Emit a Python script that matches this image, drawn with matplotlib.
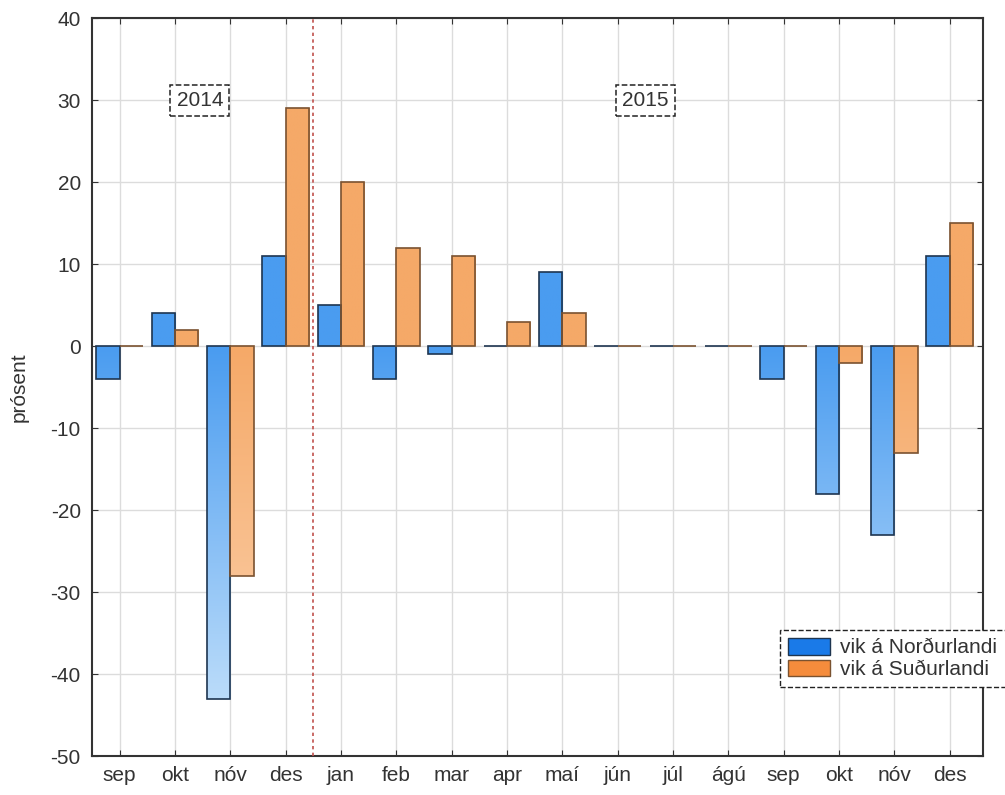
import numpy as np
import matplotlib.pyplot as plt
from matplotlib.colors import to_rgb
from matplotlib.patches import Patch

plt.rcParams['font.family'] = ['Liberation Sans', 'DejaVu Sans']
plt.rcParams['axes.unicode_minus'] = False

months = ['sep', 'okt', 'nóv', 'des', 'jan', 'feb', 'mar', 'apr', 'maí',
          'jún', 'júl', 'ágú', 'sep', 'okt', 'nóv', 'des']
nordur = [-4, 4, -43, 11, 5, -4, -1, 0, 9, 0, 0, 0, -4, -18, -23, 11]
sudur = [0, 2, -28, 29, 20, 12, 11, 3, 4, 0, 0, 0, 0, -2, -13, 15]

fs = 15

fig = plt.figure(figsize=(10.05, 7.95), dpi=100)
ax = fig.add_axes([0.0915, 0.049, 0.8865, 0.928])

x = np.arange(len(months))
w = 0.42


def grad_bars(xpos, vals, base, light, edge):
    base = np.array(to_rgb(base))
    light = np.array(to_rgb(light))
    bars = ax.bar(xpos, vals, width=w, facecolor='none', edgecolor=edge,
                  linewidth=1.2, zorder=3)
    for b, v in zip(bars, vals):
        if v == 0:
            continue
        y0, y1 = min(0, v), max(0, v)
        ys = np.linspace(y1, y0, 60)
        t = np.clip(-ys / 45.0, 0, 1)[:, None] * 0.85
        col = base[None, :] * (1 - t) + light[None, :] * t
        img = np.repeat(col[:, None, :], 2, axis=1)
        x0 = b.get_x()
        im = ax.imshow(img, extent=(x0, x0 + b.get_width(), y0, y1),
                       aspect='auto', zorder=2, interpolation='bilinear')
        im.set_clip_path(b)
    return bars


grad_bars(x - w / 2, nordur, '#4a9cf0', '#d4eafc', '#1e3550')
grad_bars(x + w / 2, sudur, '#f5a968', '#fdd8b8', '#7a5230')

ax.set_xlim(-0.5, 15.6)
ax.set_ylim(-50, 40)
ax.set_xticks(x)
ax.set_xticklabels(months)
ax.set_yticks(np.arange(-50, 41, 10))
ax.tick_params(labelsize=fs, colors='#333333')
ax.tick_params(direction='in', top=True, right=True, length=4, color='#333333')
ax.tick_params(axis='y', pad=8)
ax.tick_params(axis='x', pad=7)
ax.grid(True, color='#dcdcdc', linewidth=1, zorder=0)
ax.set_axisbelow(True)
for s in ax.spines.values():
    s.set_linewidth(1.5)
    s.set_color('#333333')

ax.axvline(3.5, color='#c0504d', linestyle=(0, (2, 2)), linewidth=1.2, zorder=4)

box = dict(boxstyle='square,pad=0.3', fc='white', ec='#222222', ls='--', lw=1.1)
ax.text(1.45, 30, '2014', fontsize=fs, color='#333333', ha='center', va='center',
        bbox=box, zorder=5)
ax.text(9.5, 30, '2015', fontsize=fs, color='#333333', ha='center', va='center',
        bbox=box, zorder=5)

ax.set_ylabel('prósent', fontsize=fs, color='#333333')
ax.yaxis.set_label_coords(-0.071, 0.5)

handles = [Patch(facecolor='#1a7ae8', edgecolor='#1e3550', label='vik á Norðurlandi'),
           Patch(facecolor='#f58c3c', edgecolor='#7a5230', label='vik á Suðurlandi')]
leg = ax.legend(handles=handles, loc='lower left', bbox_to_anchor=(0.772, 0.093),
                fontsize=fs, frameon=True, fancybox=False, borderpad=0.4,
                labelspacing=0.1, handlelength=2.0, handleheight=0.85,
                handletextpad=0.5, borderaxespad=0)
for t in leg.get_texts():
    t.set_color('#333333')
leg.get_frame().set_linestyle('--')
leg.get_frame().set_edgecolor('#222222')
leg.get_frame().set_alpha(1)
leg.set_zorder(6)

fig.savefig('out.png', dpi=100)
